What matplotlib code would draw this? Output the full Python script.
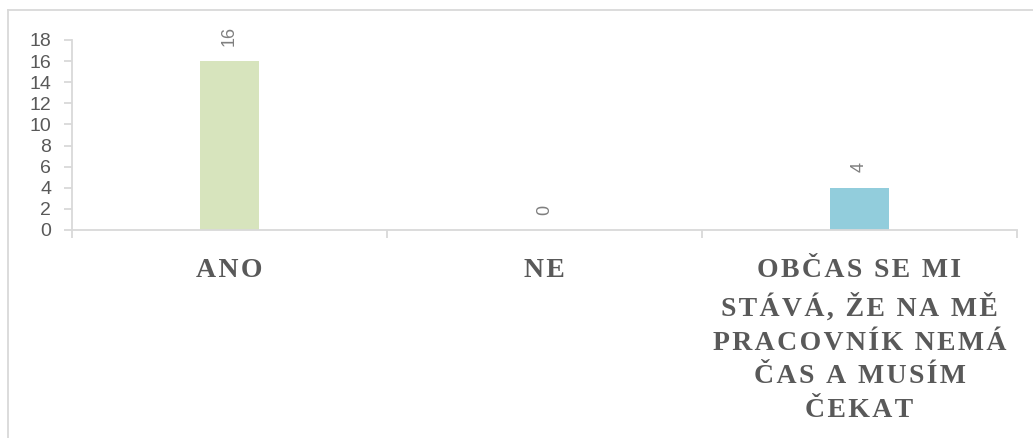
import matplotlib.pyplot as plt
from matplotlib.lines import Line2D

categories = ["ANO", "NE", "OBČAS SE MI\nSTÁVÁ, ŽE NA MĚ\nPRACOVNÍK NEMÁ\nČAS A MUSÍM\nČEKAT"]
values = [16, 0, 4]
bar_colors = ["#d7e4bd", "#92cddc", "#92cddc"]

grey = "#595959"
line_grey = "#d9d9d9"


def spaced(text):
    # widen the letter spacing of the category captions
    lines = []
    for line in text.split("\n"):
        words = ["\u200a".join(w) for w in line.split(" ")]
        lines.append("\u200a \u200a".join(words))
    return "\n".join(lines)


fig = plt.figure(figsize=(10.33, 4.38), dpi=100)
ax = fig.add_axes([72 / 1033, 1 - 230 / 438, (1017 - 72) / 1033, 190 / 438])

x = range(len(values))
ax.bar(x, values, width=0.185, color=bar_colors)

for xi, v in zip(x, values):
    ax.annotate(str(v), (xi, v), xytext=(0, 11), textcoords="offset points",
                rotation=90, ha="center", va="bottom", fontsize=13,
                color="#7f7f7f", family="Liberation Sans")

ax.set_xlim(-0.5, 2.5)
ax.set_ylim(0, 18)
ax.set_yticks(range(0, 19, 2))
ax.tick_params(axis="y", length=6, width=1.3, color=line_grey, pad=9,
               labelsize=14, labelcolor=grey)
for lab in ax.get_yticklabels():
    lab.set_family("Liberation Sans")

ax.set_xticks(list(x))
ax.set_xticklabels([spaced(c) for c in categories], fontsize=20,
                   fontweight="bold", color=grey, linespacing=1.47,
                   family=["Liberation Serif", "DejaVu Serif"])
ax.tick_params(axis="x", length=0, pad=20)
ax.set_xticks([-0.5, 0.5, 1.5, 2.5], minor=True)
ax.tick_params(axis="x", which="minor", length=6, width=1.3, color=line_grey)

for side in ["top", "right"]:
    ax.spines[side].set_visible(False)
for side in ["left", "bottom"]:
    ax.spines[side].set_color(line_grey)
    ax.spines[side].set_linewidth(1.3)

# outer chart frame, cut off at the right and bottom
x0, y0 = 8 / 1033, 1 - 10 / 438
fig.add_artist(Line2D([x0, 1], [y0, y0], color=line_grey, lw=1.3))
fig.add_artist(Line2D([x0, x0], [y0, 0], color=line_grey, lw=1.3))

fig.savefig("out.png", dpi=100)
